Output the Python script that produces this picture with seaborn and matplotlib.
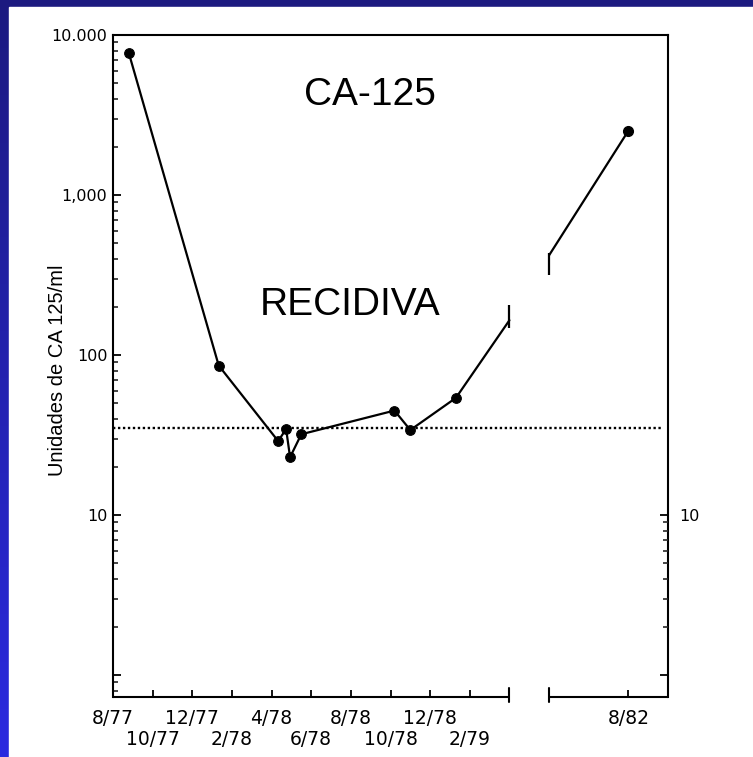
import numpy as np
import pandas as pd
import matplotlib
matplotlib.use("Agg")
import matplotlib.pyplot as plt
import matplotlib.transforms as mtransforms
from matplotlib.colors import LinearSegmentedColormap
from matplotlib.patches import Rectangle
from matplotlib.ticker import LogLocator, NullFormatter, FixedLocator, FixedFormatter
import seaborn as sns

# CA-125 serum levels (U/ml)
dates_early = ["1977-08-25", "1978-01-11", "1978-04-11", "1978-04-23", "1978-04-29",
               "1978-05-16", "1978-10-07", "1978-11-01", "1979-01-10"]
ca125_early = [7700, 86, 29, 34.5, 23, 32, 45, 34, 54]

# line runs into the axis break and comes back out of it
break_date, break_value = "1979-04-01", 165
resume_date, resume_value = "1982-04-01", 420
dates_late = ["1982-08-01"]
ca125_late = [2520]

cutoff = 35  # normal upper limit

# tick labels sit on two staggered rows
top_row_dates = ["1977-08-01", "1977-12-01", "1978-04-01", "1978-08-01", "1978-12-01",
                 "1982-08-01"]
top_row_labels = ["8/77", "12/77", "4/78", "8/78", "12/78", "8/82"]
bottom_row_dates = ["1977-10-01", "1978-02-01", "1978-06-01", "1978-10-01", "1979-02-01"]
bottom_row_labels = ["10/77", "2/78", "6/78", "10/78", "2/79"]
axis_end_date = "1982-10-01"


def axis_pos(dates):
    # months since 8/77, with the 4/79 - 4/82 stretch squeezed into 2 months
    d = pd.to_datetime(pd.Series(dates))
    m = (d.dt.year - 1977) * 12 + d.dt.month - 8 + (d.dt.day - 1) / 30.0
    m = m.where(d.dt.year < 1982, m - 34)
    return m.to_numpy(dtype=float)


df_early = pd.DataFrame({"x": axis_pos(dates_early), "y": ca125_early})
df_to_break = pd.DataFrame({"x": axis_pos([dates_early[-1], break_date]),
                            "y": [ca125_early[-1], break_value]})
df_late = pd.DataFrame({"x": axis_pos([resume_date] + dates_late),
                        "y": [resume_value] + ca125_late})

sns.set_style("ticks")
plt.rcParams["font.family"] = ["DejaVu Sans"]
plt.rcParams["text.color"] = "black"

fig = plt.figure(figsize=(7.53, 7.57), dpi=100)

# slide background: blue gradient frame with the scanned white page on top
bg = fig.add_axes([0, 0, 1, 1], zorder=-10)
cmap = LinearSegmentedColormap.from_list("slide", ["#1c1a80", "#2b2ae0"])
bg.imshow(np.linspace(0, 1, 256).reshape(-1, 1), aspect="auto", cmap=cmap,
          extent=[0, 1, 0, 1])
bg.add_patch(Rectangle((9 / 753, 0), 1, (757 - 7) / 757, color="white"))
bg.set_xlim(0, 1)
bg.set_ylim(0, 1)
bg.axis("off")

ax = fig.add_axes([113 / 753, 60 / 757, 555 / 753, 662 / 757])
ax.set_facecolor("white")

line_kw = dict(color="black", linewidth=1.6)
sns.lineplot(data=df_early, x="x", y="y", ax=ax, marker="o", markersize=7,
             markeredgecolor="black", **line_kw)
sns.lineplot(data=df_to_break, x="x", y="y", ax=ax, **line_kw)
sns.lineplot(data=df_late, x="x", y="y", ax=ax, **line_kw)
ax.plot(df_late["x"].iloc[-1:], df_late["y"].iloc[-1:], "o", color="black", markersize=7)

# short bars where the curve is cut
bx, rx = df_to_break["x"].iloc[-1], df_late["x"].iloc[0]
ax.vlines(bx, break_value * 0.9, break_value * 1.25, color="black", lw=1.6)
ax.vlines(rx, resume_value * 0.75, resume_value * 1.03, color="black", lw=1.6)

ax.axhline(cutoff, xmin=0, xmax=0.99, color="black", lw=1.7, ls=(0, (1, 1.1)))

ax.set_yscale("log")
ax.set_ylim(0.73, 10000)
x_end = axis_pos([axis_end_date])[0]
ax.set_xlim(0, x_end)

ax.set_yticks([1, 10, 100, 1000, 10000], ["", "10", "100", "1,000", "10.000"])
ax.yaxis.set_minor_locator(LogLocator(base=10, subs=np.arange(2, 10), numticks=100))
ax.yaxis.set_minor_formatter(NullFormatter())
ax.tick_params(axis="y", which="major", direction="in", length=6, width=1.3,
               pad=4, labelsize=11.5, colors="black")
ax.tick_params(axis="y", which="minor", direction="in", length=3.5, width=1.2)

ax.xaxis.set_major_locator(FixedLocator(axis_pos(top_row_dates)))
ax.xaxis.set_major_formatter(FixedFormatter(top_row_labels))
ax.xaxis.set_minor_locator(FixedLocator(axis_pos(bottom_row_dates)))
ax.xaxis.set_minor_formatter(FixedFormatter(bottom_row_labels))
ax.tick_params(axis="x", which="major", direction="in", length=5, width=1.3, pad=9,
               labelsize=13.5, top=False, colors="black")
ax.tick_params(axis="x", which="minor", direction="in", length=5, width=1.3, pad=23.5,
               labelsize=13.5, top=False, colors="black")
ax.set_xlabel("")

# broken x axis
ax.spines["bottom"].set_visible(False)
for s in ["left", "right", "top"]:
    ax.spines[s].set_linewidth(1.5)
    ax.spines[s].set_color("black")
trans = mtransforms.blended_transform_factory(ax.transData, ax.transAxes)
ax.plot([0, bx], [0, 0], transform=trans, color="black", lw=1.5, clip_on=False,
        solid_capstyle="butt")
ax.plot([rx, x_end], [0, 0], transform=trans, color="black", lw=1.5, clip_on=False,
        solid_capstyle="butt")
for xb in (bx, rx):
    ax.plot([xb, xb], [-0.007, 0.014], transform=trans, color="black", lw=1.5,
            clip_on=False)

# right-hand scale only between 1 and 10
ax2 = ax.twinx()
ax2.set_yscale("log")
ax2.set_ylim(ax.get_ylim())
ax2.set_yticks([1, 10], ["", "10"])
ax2.set_yticks(np.arange(2, 10), minor=True)
ax2.yaxis.set_minor_formatter(NullFormatter())
ax2.tick_params(axis="y", which="major", direction="in", length=6, width=1.3,
                pad=8, labelsize=11.5, colors="black")
ax2.tick_params(axis="y", which="minor", direction="in", length=3.5, width=1.2)
for s in ax2.spines.values():
    s.set_visible(False)

ax.set_ylabel("Unidades de CA 125/ml", fontsize=14.5, family="Liberation Sans",
              va="center", color="black")
ax.yaxis.set_label_coords(-0.1, 0.494)

ax.text(0.463, 0.909, "CA-125", transform=ax.transAxes, ha="center", va="center",
        fontsize=28, family="Liberation Sans", color="black")
ax.text(0.427, 0.592, "RECIDIVA", transform=ax.transAxes, ha="center", va="center",
        fontsize=28, family="Liberation Sans", color="black")

fig.savefig("out.png", dpi=100)
